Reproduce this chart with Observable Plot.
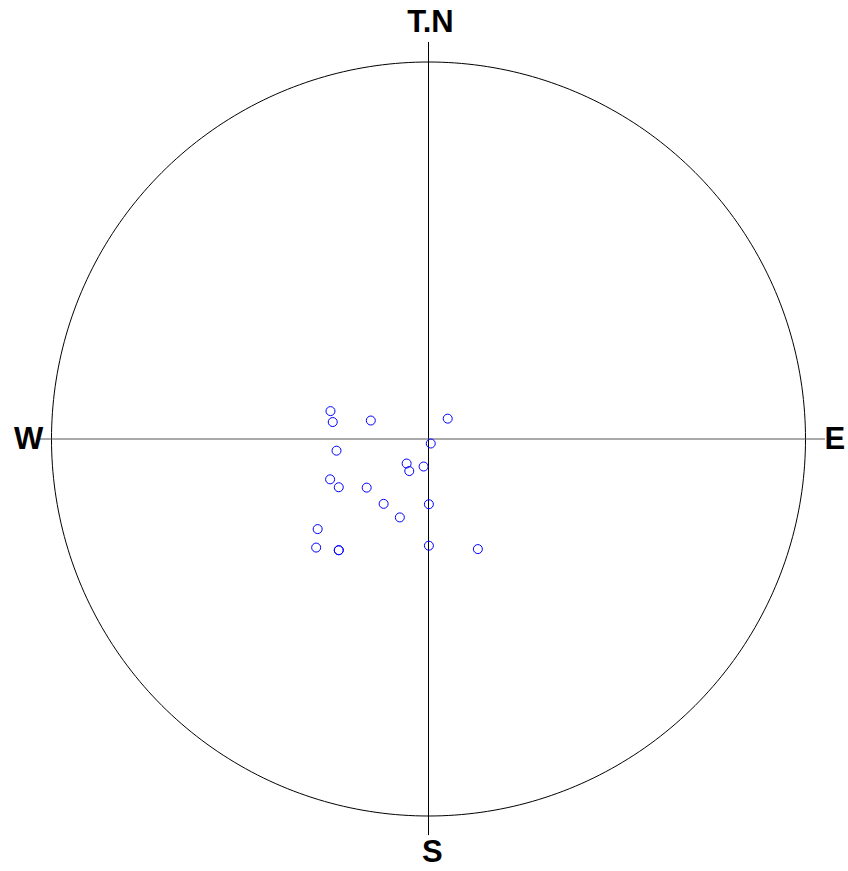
<!DOCTYPE html>
<html>
<head>
<meta charset="utf-8">
<script src="https://cdn.jsdelivr.net/npm/d3@7"></script>
<script src="https://cdn.jsdelivr.net/npm/@observablehq/plot@0.6"></script>
<style>
  html, body { margin: 0; padding: 0; background: #fff; }
</style>
</head>
<body>
<div id="chart"></div>
<script>
// Pole positions (east, north) in units of the net radius
const east  = [-0.260, -0.254, -0.153, 0.051, 0.006, -0.244, -0.058, -0.051, -0.013, -0.261,
               -0.238, -0.164, -0.119, 0.001, -0.076, -0.294, -0.298, -0.238, -0.238, 0.001, 0.131];
const north = [0.074, 0.045, 0.049, 0.054, -0.012, -0.031, -0.065, -0.085, -0.073, -0.107,
               -0.128, -0.129, -0.172, -0.173, -0.208, -0.239, -0.288, -0.295, -0.295, -0.283, -0.292];
const directionLabels = ["T.N", "E", "S", "W"];

const points = east.map((e, i) => ({x: e, y: north[i]}));
const circle = d3.range(0, 361).map(a => ({x: Math.cos(a * Math.PI / 180), y: Math.sin(a * Math.PI / 180)}));
const labels = [
  {t: directionLabels[0], x: 0.005, y: 1.105},
  {t: directionLabels[1], x: 1.078, y: 0},
  {t: directionLabels[2], x: 0.010, y: -1.097},
  {t: directionLabels[3], x: -1.061, y: 0}
];

const chart = Plot.plot({
  width: 848,
  height: 871,
  margin: 0,
  x: {domain: [-428 / 377, 420 / 377], axis: null},
  y: {domain: [-432.5 / 377, 438.5 / 377], axis: null},
  style: {background: "#fff"},
  marks: [
    Plot.line(circle, {x: "x", y: "y", stroke: "black", strokeWidth: 1}),
    Plot.ruleX([0], {y1: -1.052, y2: 1.052, stroke: "black", strokeWidth: 1}),
    Plot.ruleY([0], {x1: -1.030, x2: 1.053, stroke: "#555", strokeWidth: 1}),
    Plot.dot(points, {x: "x", y: "y", r: 4.5, stroke: "blue", fill: "none", strokeWidth: 1}),
    Plot.text(labels, {x: "x", y: "y", text: "t", fontSize: 31, fontWeight: "bold",
      fontFamily: "Liberation Sans, Arial, sans-serif", fill: "black", textAnchor: "middle"})
  ]
});
document.getElementById("chart").appendChild(chart);
</script>
</body>
</html>
